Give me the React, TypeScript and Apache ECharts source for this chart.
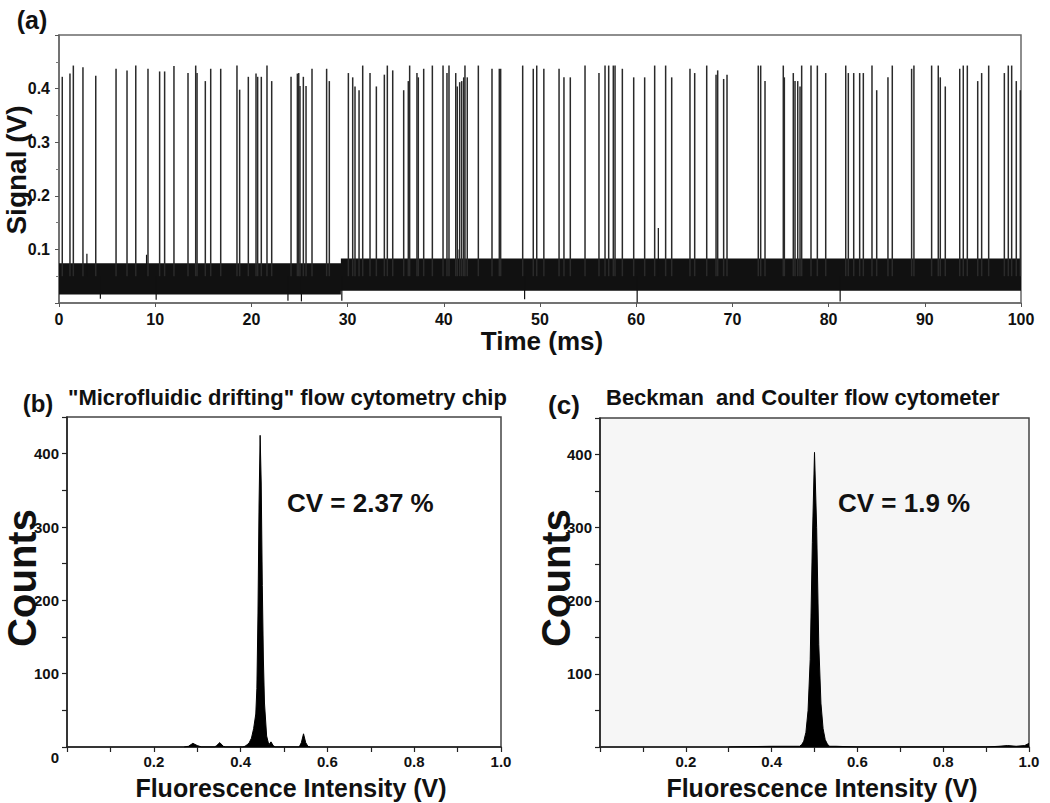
import React, { useEffect, useRef } from "react";
import * as echarts from "echarts";

// ---------- Panel (a): detector signal ----------
const spikeTimes = [
  0.34, 1.14, 1.49, 2.49, 3.82, 5.93, 7.07, 7.98, 9.25, 10.46, 10.98, 11.95, 13.41, 14.21, 14.35,
  15.21, 15.77, 16.81, 18.5, 18.78, 19.68, 20.48, 20.65, 21.03, 21.62, 22.11, 24.12, 24.78, 24.92,
  25.05, 25.4, 25.68, 26.3, 27.82, 28.1, 30.08, 30.53, 30.77, 31.19, 31.57, 32.33, 32.99, 33.82,
  34.13, 34.69, 35.83, 36.31, 36.45, 37.21, 37.35, 37.91, 38.81, 39.92, 40.33, 40.54, 41.24, 41.4,
  41.65, 41.86, 42.07, 42.2, 42.44, 43.59, 45.01, 45.77, 45.91, 48.2, 49.3, 49.66, 50.4, 51.98,
  52.49, 53.15, 54.68, 56.13, 56.76, 57.14, 57.62, 57.8, 58.56, 59.74, 60.88, 61.92, 63.06, 63.69,
  65.59, 66.08, 67.33, 68.3, 68.47, 69.09, 69.44, 72.69, 72.94, 73.39, 75.29, 75.4, 76.33, 76.51,
  76.79, 77.03, 77.2, 78.17, 78.83, 79.7, 81.78, 82.05, 82.61, 83.23, 83.61, 84.51, 85.0, 86.17,
  86.62, 88.63, 88.87, 90.71, 91.4, 91.61, 92.13, 93.63, 94.0, 94.42, 95.5, 95.91, 96.64, 98.27,
  98.68, 99.03, 99.51, 99.93,
];
const spikeHeights = [
  0.422, 0.428, 0.443, 0.44, 0.424, 0.437, 0.434, 0.443, 0.437, 0.432, 0.432, 0.442, 0.429, 0.443, 0.429,
  0.414, 0.437, 0.437, 0.443, 0.398, 0.422, 0.428, 0.422, 0.422, 0.443, 0.414, 0.422, 0.428, 0.429,
  0.405, 0.422, 0.405, 0.437, 0.437, 0.414, 0.429, 0.421, 0.404, 0.397, 0.443, 0.429, 0.404, 0.426,
  0.443, 0.434, 0.397, 0.414, 0.443, 0.429, 0.421, 0.437, 0.443, 0.443, 0.429, 0.443, 0.429, 0.404,
  0.412, 0.414, 0.421, 0.443, 0.421, 0.443, 0.437, 0.437, 0.437, 0.443, 0.437, 0.443, 0.437, 0.437,
  0.421, 0.421, 0.443, 0.429, 0.443, 0.443, 0.443, 0.443, 0.437, 0.421, 0.421, 0.443, 0.443, 0.421,
  0.437, 0.429, 0.443, 0.426, 0.434, 0.418, 0.426, 0.443, 0.443, 0.414, 0.443, 0.421, 0.429, 0.414,
  0.414, 0.404, 0.443, 0.443, 0.443, 0.429, 0.443, 0.429, 0.429, 0.429, 0.429, 0.443, 0.397, 0.421,
  0.443, 0.437, 0.443, 0.443, 0.443, 0.421, 0.404, 0.437, 0.443, 0.443, 0.414, 0.429, 0.443, 0.429,
  0.443, 0.443, 0.414, 0.397,
];
const spikeBase = 0.05;
// noise envelope of the baseline
const noiseTimes = [0, 29.3, 29.3, 100];
const noiseLow = [0.016, 0.016, 0.023, 0.023];
const noiseHigh = [0.074, 0.074, 0.083, 0.083];
// deepest dips / highest excursions of the baseline noise
const dipTimes = [4.3, 10.1, 23.8, 25.2, 29.4, 48.4, 60.1, 81.2];
const dipValues = [0.008, 0.006, 0.004, 0.003, 0.004, 0.007, 0.001, 0.003];
const bumpTimes = [2.9, 9.1, 41.6, 62.3];
const bumpValues = [0.092, 0.09, 0.1, 0.14];

// ---------- Panel (b): microfluidic drifting chip histogram ----------
const histBX = [
  0.27, 0.28, 0.29, 0.3, 0.31, 0.34, 0.345, 0.352, 0.36, 0.365,
  0.405, 0.41, 0.415, 0.42, 0.425, 0.43, 0.435, 0.4375, 0.44, 0.4425, 0.445, 0.4475, 0.45, 0.4525,
  0.455, 0.46, 0.465, 0.47, 0.475, 0.48, 0.535, 0.54, 0.545, 0.55, 0.555, 0.56,
];
const histBY = [
  0, 1, 5, 2, 0, 0, 2, 6, 1, 0,
  0, 1, 3, 6, 12, 25, 45, 80, 180, 330, 425, 360, 220, 120,
  60, 15, 3, 7, 2, 0, 0, 6, 18, 6, 1, 0,
];

// ---------- Panel (c): Beckman Coulter histogram ----------
const histCX = [
  0.3, 0.4, 0.45, 0.465, 0.47, 0.475, 0.48, 0.485, 0.49, 0.495, 0.5, 0.505, 0.51, 0.515, 0.52,
  0.525, 0.53, 0.535, 0.55, 0.6, 0.9, 0.93, 0.95, 0.97, 0.99, 1.0,
];
const histCY = [
  0, 1, 1, 1, 3, 8, 20, 50, 120, 280, 403, 300, 140, 60, 25,
  10, 4, 1, 1, 0, 0, 1, 2, 1, 2, 5,
];

const FONT = "'Liberation Sans', Arial, Helvetica, sans-serif";

export default function App() {
  const ref = useRef<HTMLDivElement>(null);
  useEffect(() => {
    if (!ref.current) return;
    document.body.style.margin = "0";
    const chart = echarts.init(ref.current, undefined, { renderer: "svg" });

    const tickLabel = { fontFamily: FONT, fontWeight: "bold" as const, color: "#111" };

    const histAxisX = (gi: number) => ({
      type: "value",
      gridIndex: gi,
      min: 0,
      max: 1,
      interval: 0.1,
      axisLine: { show: true, lineStyle: { color: "#222", width: 1.5 } },
      axisTick: { show: true, length: 5, lineStyle: { color: "#222", width: 1.2 } },
      axisLabel: {
        ...tickLabel,
        fontSize: 15,
        margin: 7,
        formatter: (v: number) => {
          const k = Math.round(v * 10);
          return k > 0 && k % 2 === 0 ? v.toFixed(1) : "";
        },
      },
      splitLine: { show: false },
    });
    const histAxisY = (gi: number) => ({
      type: "value",
      gridIndex: gi,
      min: 0,
      max: 450,
      interval: 50,
      axisLine: { show: true, lineStyle: { color: "#222", width: 1.5 } },
      axisTick: { show: true, length: 5, lineStyle: { color: "#222", width: 1.2 } },
      axisLabel: {
        ...tickLabel,
        fontSize: 15,
        margin: 8,
        formatter: (v: number) => (v > 0 && v % 100 === 0 ? String(v) : ""),
      },
      splitLine: { show: false },
    });

    const txt = (
      text: string,
      x: number,
      y: number,
      size: number,
      align: string = "center",
      rot = 0
    ) => ({
      type: "text",
      x,
      y,
      rotation: rot,
      style: {
        text,
        font: `bold ${size}px ${FONT}`,
        fill: "#111",
        textAlign: align,
        textVerticalAlign: "middle",
      },
      silent: true,
    });

    chart.setOption({
      animation: false,
      backgroundColor: "#ffffff",
      grid: [
        { left: 59, top: 35, width: 962, height: 268, show: true, borderColor: "#6a6a6a", borderWidth: 1.5, backgroundColor: "#fff" },
        { left: 67, top: 417, width: 434, height: 330, show: true, borderColor: "#444", borderWidth: 1.5, backgroundColor: "#fff" },
        { left: 600, top: 418, width: 429, height: 329, show: true, borderColor: "#444", borderWidth: 1.5, backgroundColor: "#f6f6f6" },
      ],
      xAxis: [
        {
          type: "value",
          gridIndex: 0,
          min: 0,
          max: 100,
          interval: 10,
          axisLine: { show: true, lineStyle: { color: "#6a6a6a", width: 1.5 } },
          axisTick: { show: true, length: 4, lineStyle: { color: "#555" } },
          axisLabel: { ...tickLabel, fontSize: 16, margin: 8 },
          splitLine: { show: false },
        },
        histAxisX(1),
        histAxisX(2),
      ],
      yAxis: [
        {
          type: "value",
          gridIndex: 0,
          min: 0,
          max: 0.5,
          interval: 0.1,
          axisLine: { show: true, lineStyle: { color: "#6a6a6a", width: 1.5 } },
          axisTick: { show: true, length: 4, lineStyle: { color: "#555" } },
          minorTick: { show: true, splitNumber: 2, length: 3, lineStyle: { color: "#777" } },
          axisLabel: {
            ...tickLabel,
            fontSize: 16,
            margin: 9,
            formatter: (v: number) => (v > 0.001 && v < 0.45 ? v.toFixed(1) : ""),
          },
          splitLine: { show: false },
        },
        histAxisY(1),
        histAxisY(2),
      ],
      series: [
        {
          type: "custom",
          xAxisIndex: 0,
          yAxisIndex: 0,
          silent: true,
          data: [[0, 0]],
          renderItem: (_p: any, api: any) => {
            const top = noiseTimes.map((t, i) => api.coord([t, noiseHigh[i]]));
            const bot = noiseTimes.map((t, i) => api.coord([t, noiseLow[i]])).reverse();
            return { type: "polygon", shape: { points: top.concat(bot) }, style: { fill: "#111" } };
          },
        },
        {
          type: "custom",
          xAxisIndex: 0,
          yAxisIndex: 0,
          silent: true,
          data: dipTimes.map((t, i) => [t, dipValues[i]]).concat(bumpTimes.map((t, i) => [t, bumpValues[i]])),
          renderItem: (_p: any, api: any) => {
            const a = api.coord([api.value(0), spikeBase]);
            const b = api.coord([api.value(0), api.value(1)]);
            return { type: "line", shape: { x1: a[0], y1: a[1], x2: b[0], y2: b[1] }, style: { stroke: "#111", lineWidth: 1.2 } };
          },
        },
        {
          type: "custom",
          xAxisIndex: 0,
          yAxisIndex: 0,
          silent: true,
          data: spikeTimes.map((t, i) => [t, spikeHeights[i]]),
          renderItem: (_p: any, api: any) => {
            const a = api.coord([api.value(0), spikeBase]);
            const b = api.coord([api.value(0), api.value(1)]);
            return { type: "line", shape: { x1: a[0], y1: a[1], x2: b[0], y2: b[1] }, style: { stroke: "#2a2a2a", lineWidth: 1.5 } };
          },
        },
        {
          type: "line",
          xAxisIndex: 1,
          yAxisIndex: 1,
          symbol: "none",
          silent: true,
          data: histBX.map((x, i) => [x, histBY[i]]),
          lineStyle: { color: "#000", width: 1 },
          areaStyle: { color: "#000", opacity: 1 },
        },
        {
          type: "line",
          xAxisIndex: 2,
          yAxisIndex: 2,
          symbol: "none",
          silent: true,
          data: histCX.map((x, i) => [x, histCY[i]]),
          lineStyle: { color: "#000", width: 1 },
          areaStyle: { color: "#000", opacity: 1 },
        },
      ],
      graphic: [
        txt("(a)", 32, 20, 25),
        txt("Signal (V)", 16, 170, 28, "center", Math.PI / 2),
        txt("Time (ms)", 542, 341, 26),
        txt("(b)", 38, 403, 24),
        txt('"Microfluidic drifting" flow cytometry chip', 68, 397, 22, "left"),
        txt("(c)", 564, 405, 26),
        txt("Beckman  and Coulter flow cytometer", 606, 397, 22, "left"),
        txt("Counts", 22, 578, 40, "center", Math.PI / 2),
        txt("Counts", 556, 578, 40, "center", Math.PI / 2),
        txt("CV = 2.37 %", 287, 503, 26, "left"),
        txt("CV = 1.9 %", 838, 503, 26, "left"),
        txt("Fluorescence Intensity (V)", 291, 788, 25),
        txt("Fluorescence Intensity (V)", 822, 788, 25),
        txt("0", 55, 757, 15),
      ],
    });
    return () => chart.dispose();
  }, []);
  return (
    <div
      ref={ref}
      style={{ position: "absolute", left: 0, top: 0, width: 1050, height: 803 }}
    />
  );
}
